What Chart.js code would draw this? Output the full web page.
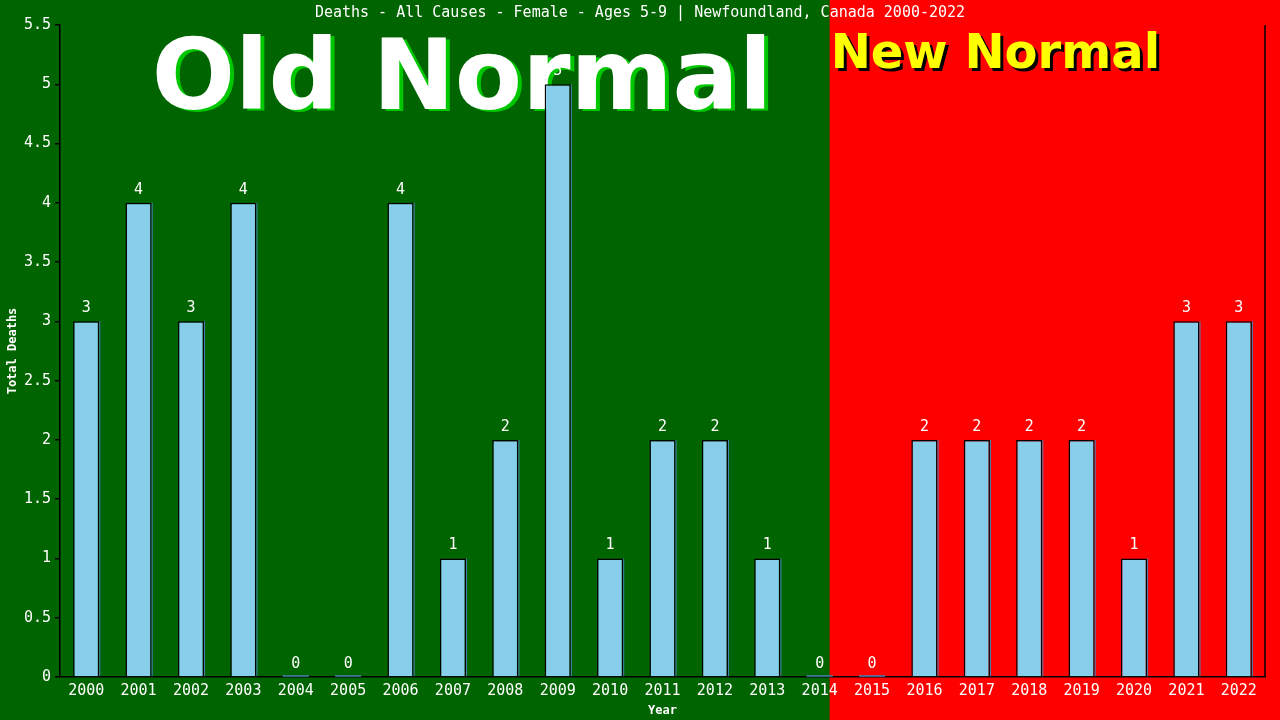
<!DOCTYPE html>
<html>
<head>
<meta charset="utf-8">
<script src="https://cdn.jsdelivr.net/npm/chart.js@4"></script>
<style>
  body { margin: 0; background: #006400; }
  canvas { display: block; }
</style>
</head>
<body>
<canvas id="chart" width="1280" height="720"></canvas>
<script>
'use strict';

// chart data
const years = ['2000', '2001', '2002', '2003', '2004', '2005', '2006', '2007', '2008', '2009', '2010', '2011',
  '2012', '2013', '2014', '2015', '2016', '2017', '2018', '2019', '2020', '2021', '2022'];
const deaths = [3, 4, 3, 4, 0, 0, 4, 1, 2, 5, 1, 2, 2, 1, 0, 0, 2, 2, 2, 2, 1, 3, 3];
const yTicks = [0, 0.5, 1, 1.5, 2, 2.5, 3, 3.5, 4, 4.5, 5, 5.5];
const chartTitle = 'Deaths - All Causes - Female - Ages 5-9 | Newfoundland, Canada 2000-2022';

const mono = '"DejaVu Sans Mono", "Liberation Mono", monospace';
const canvasEl = document.getElementById('chart');

// paints green/red halves and the big Old/New Normal banners behind the bars
const backdropPlugin = {
  id: 'backdrop',
  beforeDraw(chart) {
    const ctx = chart.ctx;
    const x = chart.scales.x;
    const step = x.getPixelForValue(1) - x.getPixelForValue(0);
    const split = x.getPixelForValue(14) + step * 0.19;
    ctx.save();
    ctx.fillStyle = '#006400';
    ctx.fillRect(0, 0, chart.width, chart.height);
    ctx.fillStyle = '#ff0000';
    ctx.fillRect(split, 0, chart.width - split, chart.height);

    ctx.font = 'bold 98px "DejaVu Sans", Verdana, sans-serif';
    ctx.textAlign = 'center';
    ctx.textBaseline = 'alphabetic';
    ctx.fillStyle = '#00c800';
    ctx.fillText('Old Normal', 466, 111);
    ctx.fillStyle = '#ffffff';
    ctx.fillText('Old Normal', 462, 109);

    ctx.font = 'bold 48px "DejaVu Sans", Verdana, sans-serif';
    ctx.textAlign = 'left';
    ctx.fillStyle = '#000000';
    ctx.fillText('New Normal', split + 4, 71);
    ctx.fillStyle = '#ffff00';
    ctx.fillText('New Normal', split + 1, 68);

    ctx.font = '15px ' + mono;
    ctx.textAlign = 'center';
    ctx.textBaseline = 'middle';
    ctx.fillStyle = '#ffffff';
    ctx.fillText(chartTitle, chart.width / 2, 13);
    ctx.restore();
  }
};

// value labels over the bars, right border line, and flat line for zero bars
const labelsPlugin = {
  id: 'barLabels',
  afterDatasetsDraw(chart) {
    const ctx = chart.ctx;
    const area = chart.chartArea;
    const meta = chart.getDatasetMeta(0);
    ctx.save();
    meta.data.forEach((bar, i) => {
      const half = bar.width / 2;
      ctx.strokeStyle = '#4682b4';
      ctx.beginPath();
      if (deaths[i] === 0) {
        ctx.lineWidth = 1.5;
        ctx.moveTo(bar.x - half, bar.y - 1);
        ctx.lineTo(bar.x + half, bar.y - 1);
      } else {
        ctx.lineWidth = 1;
        ctx.moveTo(bar.x + half + 0.5, bar.y);
        ctx.lineTo(bar.x + half + 0.5, bar.base);
      }
      ctx.stroke();
      ctx.fillStyle = '#ffffff';
      ctx.font = '15px ' + mono;
      ctx.textAlign = 'center';
      ctx.textBaseline = 'middle';
      ctx.fillText(String(deaths[i]), bar.x, bar.y - 13);
    });
    ctx.strokeStyle = '#000000';
    ctx.lineWidth = 1.5;
    ctx.beginPath();
    ctx.moveTo(area.right, area.top);
    ctx.lineTo(area.right, area.bottom);
    ctx.stroke();
    ctx.restore();
  }
};

new Chart(canvasEl, {
  type: 'bar',
  data: {
    labels: years,
    datasets: [{
      label: 'Total Deaths',
      data: deaths,
      backgroundColor: '#87ceeb',
      borderColor: '#000000',
      borderWidth: 1.5,
      barPercentage: 0.5,
      categoryPercentage: 1.0
    }]
  },
  options: {
    responsive: false,
    devicePixelRatio: 1,
    animation: false,
    layout: { padding: { top: 25, right: 15, left: 6, bottom: 2 } },
    plugins: {
      legend: { display: false },
      title: { display: false },
      tooltip: { enabled: false }
    },
    scales: {
      x: {
        grid: { display: false, drawTicks: false },
        border: { color: '#000000', width: 1.5 },
        ticks: { color: '#ffffff', font: { family: mono, size: 15 }, padding: 5, maxRotation: 0, autoSkip: false },
        title: { display: true, text: 'Year', color: '#ffffff', font: { family: mono, size: 12, weight: 'bold' }, padding: { top: 0, bottom: 0 } },
        afterFit(scale) { scale.height = 41; }
      },
      y: {
        min: 0,
        max: 5.5,
        afterBuildTicks(scale) { scale.ticks = yTicks.map(v => ({ value: v })); },
        grid: { drawOnChartArea: false, drawTicks: true, tickLength: 5, color: '#000000', lineWidth: 1.5 },
        border: { color: '#000000', width: 1.5 },
        ticks: { color: '#ffffff', font: { family: mono, size: 15 }, padding: 4, callback: v => String(v) },
        title: { display: true, text: 'Total Deaths', color: '#ffffff', font: { family: mono, size: 12, weight: 'bold' }, padding: { top: 0, bottom: 0 } },
        afterFit(scale) { scale.width = 54; }
      }
    }
  },
  plugins: [backdropPlugin, labelsPlugin]
});
</script>
</body>
</html>
